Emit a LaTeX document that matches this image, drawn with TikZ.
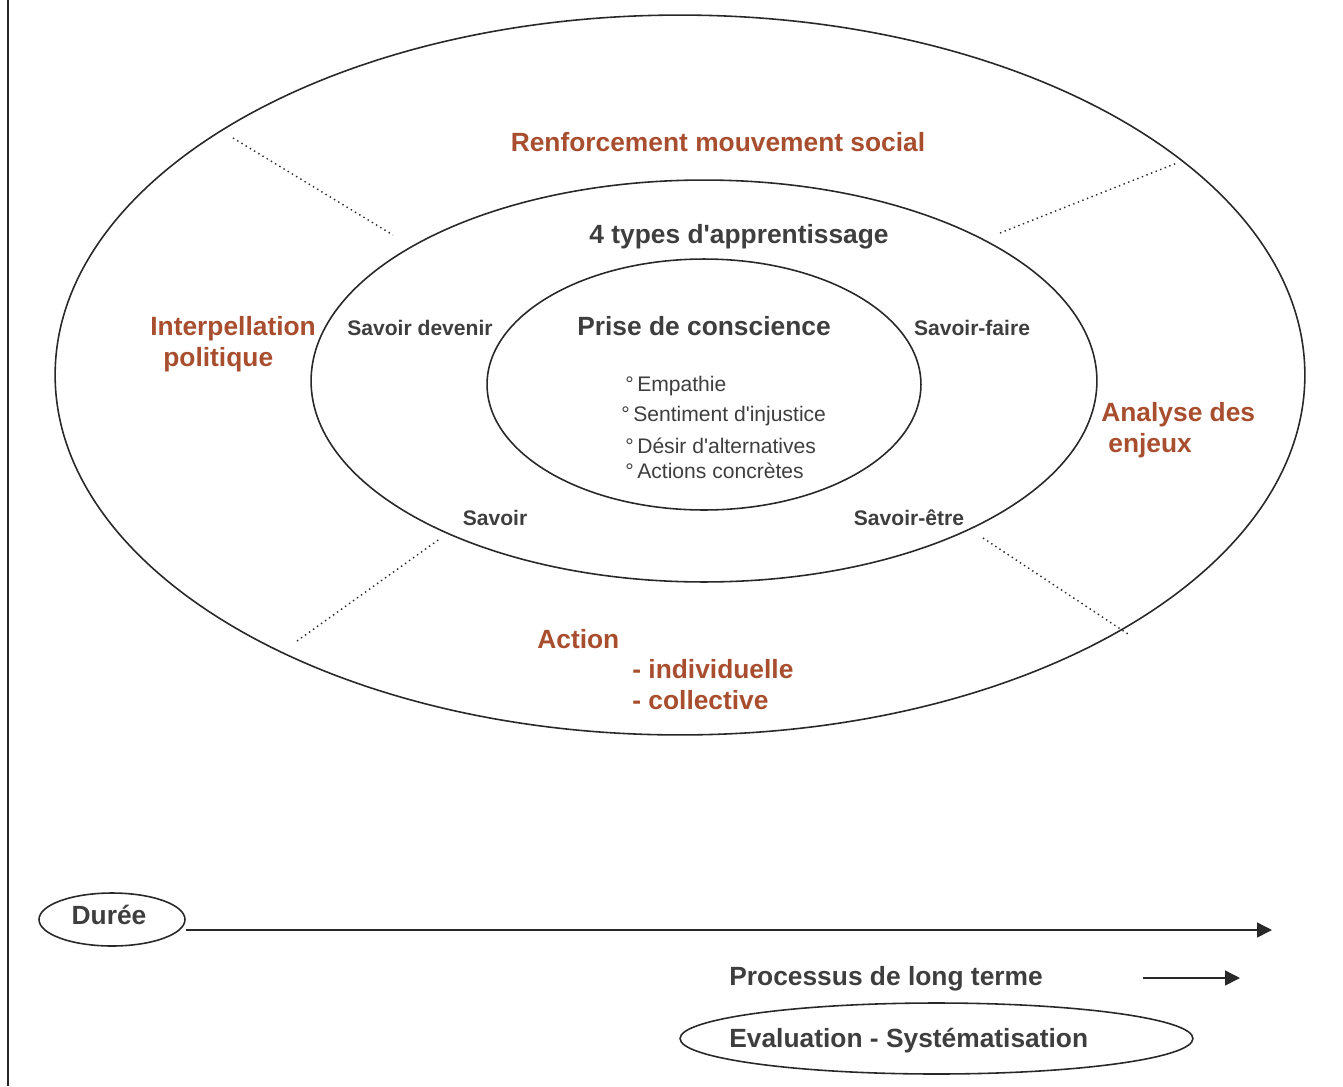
\documentclass[tikz,border=0pt]{standalone}
\usepackage{fontspec}
\setmainfont{Liberation Sans}
\usetikzlibrary{shapes,arrows.meta,positioning,calc}
\definecolor{ringcolor}{RGB}{40,40,40}
\definecolor{labelcolor}{RGB}{62,62,62}
\definecolor{themecolor}{RGB}{168,78,46}

\tikzset{
  ring/.style={draw=ringcolor, line width=0.9pt, ellipse, inner sep=0pt},
  theme/.style={font=\fontsize{15}{17.6}\selectfont\bfseries, text=themecolor, align=left, inner sep=0pt},
  kind/.style={font=\fontsize{12}{14}\selectfont\bfseries, text=labelcolor, inner sep=0pt},
  heading/.style={font=\fontsize{15}{18}\selectfont\bfseries, text=labelcolor, inner sep=0pt},
  item/.style={font=\fontsize{12}{14}\selectfont, text=labelcolor, anchor=west, inner sep=0pt},
  border/.style={dotted, line width=0.8pt, draw=ringcolor},
  timearrow/.style={draw=ringcolor, line width=0.8pt, -{Triangle[length=8.5pt,width=8.5pt]}}
}

\begin{document}
\begin{tikzpicture}[x=0.02cm, y=-0.02cm]
\useasboundingbox (0,0) rectangle (1343,1086);

% Page edge
\draw[ringcolor, line width=1pt] (8,0) -- (8,1086);

% Rings
\node[ring, minimum width=25cm, minimum height=14.4cm] (outer) at (680,375) {};
\node[ring, minimum width=15.72cm, minimum height=8.04cm] (middle) at (704,381) {};
\node[ring, minimum width=8.68cm, minimum height=5.02cm] (inner) at (704,384.5) {};

% Separators
\draw[border] (233,138) -- (393,235);
\draw[border] (1000,233) -- (1177,163);
\draw[border] (297,641) -- (441,538);
\draw[border] (983,538) -- (1128,634);

% Outer themes
\node[theme] (renfort) at (718,142) {Renforcement mouvement social};
\node[theme, anchor=west] (interp) at (150,344.5) {Interpellation\\\hspace*{0.26cm}politique};
\node[theme, anchor=west] (analyse) at (1101,430.5) {Analyse des\\\hspace*{0.14cm}enjeux};
\node[theme, anchor=west] (action) at (537,639) {Action};
\node[theme, anchor=west] (forms) at (632,685) {- individuelle\\- collective};

% Learning types
\node[heading] (types) at (739,237) {4 types d\textquotesingle apprentissage};
\node[kind] (devenir) at (420,328) {Savoir devenir};
\node[kind] (faire) at (972,328) {Savoir-faire};
\node[kind] (savoir) at (495,518) {Savoir};
\node[kind] (etre) at (909,518) {Savoir-être};

% Awareness
\node[heading] (prise) at (704,326) {Prise de conscience};
\node[item] (empathie) at (625,386) {°\,Empathie};
\node[item] (injustice) at (621,416) {°\,Sentiment d\textquotesingle injustice};
\node[item] (desir) at (625,446) {°\,Désir d\textquotesingle alternatives};
\node[item] (actions) at (625,471) {°\,Actions concrètes};

% Time line
\node[ring, minimum width=2.92cm, minimum height=1.06cm] (duree) at (112,919.5) {};
\node[heading] (dureetext) at (109,915) {Durée};
\coordinate (dureeend) at (1272,930);
\draw[timearrow] (duree.east |- dureeend) -- (dureeend);

\node[heading, anchor=west] (processus) at (729,979) {Processus de long terme};
\coordinate (longstart) at (1143,978);
\coordinate (longend) at (1240,978);
\draw[timearrow] (longstart) -- (longend);

\node[ring, minimum width=10.26cm, minimum height=1.42cm] (evalring) at (936.5,1038.5) {};
\node[heading, anchor=west] (evaltext) at (729,1041) {Evaluation - Systématisation};

\end{tikzpicture}
\end{document}
